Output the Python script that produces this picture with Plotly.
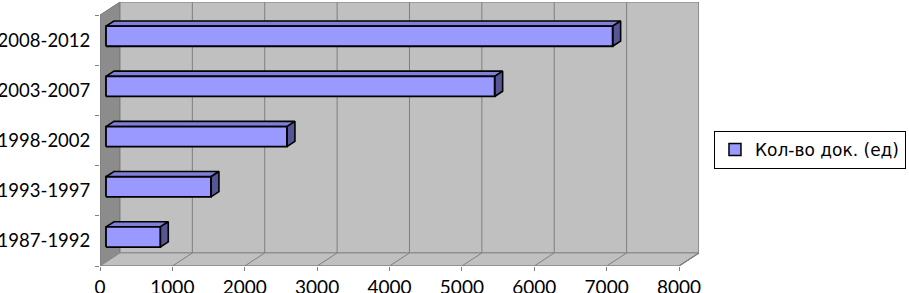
import plotly.graph_objects as go

# ---- data ----
categories = ["1987-1992", "1993-1997", "1998-2002", "2003-2007", "2008-2012"]
values = [750, 1450, 2500, 5370, 7000]
series_name = "Кол-во док. (ед)"
x_ticks = [0, 1000, 2000, 3000, 4000, 5000, 6000, 7000, 8000]

# ---- 3D projection parameters (depth offset in axis units) ----
XMAX = 8000
D = 276          # depth shift along x (value units)
DY = 0.26        # depth shift along y (category units)
F0, F1 = 0.3, 0.7  # bar depth span (fraction of wall depth)
HH = 0.2         # half height of bar front face

FONT = "Lato, 'Open Sans', sans-serif"
LFONT = "'DejaVu Sans', Verdana, sans-serif"
n = len(categories)

fig = go.Figure()

def poly(pts_list, fill, line_color, lw):
    xs, ys = [], []
    for pts in pts_list:
        for (a, b) in pts:
            xs.append(a); ys.append(b)
        xs.append(pts[0][0]); ys.append(pts[0][1])
        xs.append(None); ys.append(None)
    fig.add_trace(go.Scatter(x=xs, y=ys, mode="lines", fill="toself",
                             fillcolor=fill, line=dict(color=line_color, width=lw),
                             hoverinfo="skip", showlegend=False))

def lines(segs, color, lw):
    xs, ys = [], []
    for (a, b), (c, d) in segs:
        xs += [a, c, None]; ys += [b, d, None]
    fig.add_trace(go.Scatter(x=xs, y=ys, mode="lines", line=dict(color=color, width=lw),
                             hoverinfo="skip", showlegend=False))

# walls
poly([[(0, 0), (D, DY), (D, n + DY), (0, n)]], "#8C8C8C", "#7A7A7A", 1)          # side wall
poly([[(D, DY), (XMAX + D, DY), (XMAX + D, n + DY), (D, n + DY)]], "#C0C0C0", "#7A7A7A", 1)  # back wall
poly([[(0, 0), (XMAX, 0), (XMAX + D, DY), (D, DY)]], "#C0C0C0", "#8A8A8A", 1)   # floor

# gridlines on back wall and floor
grid = []
for t in x_ticks[1:]:
    grid.append(((t + D, DY), (t + D, n + DY)))
    grid.append(((t, 0), (t + D, DY)))
lines(grid, "#7F7F7F", 1)

# axis lines
lines([((0, 0), (XMAX, 0)), ((XMAX, 0), (XMAX + D, DY)), ((0, 0), (0, n))], "#808080", 1.2)

# bars
tops, rights, fronts = [], [], []
for i, v in enumerate(values):
    x0 = F0 * D
    yb = i + 0.5 - HH + F0 * DY
    yt = i + 0.5 + HH + F0 * DY
    ddx = (F1 - F0) * D
    ddy = (F1 - F0) * DY
    fronts.append([(x0, yb), (x0 + v, yb), (x0 + v, yt), (x0, yt)])
    tops.append([(x0, yt), (x0 + v, yt), (x0 + v + ddx, yt + ddy), (x0 + ddx, yt + ddy)])
    rights.append([(x0 + v, yb), (x0 + v + ddx, yb + ddy), (x0 + v + ddx, yt + ddy), (x0 + v, yt)])
poly(tops, "#8080D8", "#000000", 1.6)
poly(rights, "#565696", "#000000", 1.6)
poly(fronts, "#9999FF", "#000000", 1.8)

# legend entry
fig.add_trace(go.Scatter(x=[None], y=[None], mode="markers", name=series_name,
                         marker=dict(symbol="square", size=12, color="#9999FF",
                                     line=dict(color="#000000", width=1.5)),
                         showlegend=True))

fig.update_layout(
    width=909, height=293,
    margin=dict(l=100, r=210, t=2, b=27),
    paper_bgcolor="white", plot_bgcolor="white",
    font=dict(family=FONT, size=18, color="black"),
    showlegend=True,
    legend=dict(x=1.025, xanchor="left", y=0.44, yanchor="middle",
                bgcolor="white", bordercolor="#000000", borderwidth=1,
                font=dict(family=LFONT, size=17, color="black")),
    xaxis=dict(range=[0, XMAX + D], tickvals=x_ticks, ticks="outside", ticklen=4,
               tickcolor="#808080", showgrid=False, zeroline=False, showline=False,
               tickfont=dict(size=19), fixedrange=True, automargin=False),
    yaxis=dict(range=[0, n + DY], tickvals=[i + 0.5 for i in range(n)], ticktext=categories,
               ticks="outside", ticklen=5, tickcolor="rgba(0,0,0,0)",
               minor=dict(tickvals=list(range(n + 1)), ticks="outside", ticklen=4,
                          tickcolor="#808080"),
               showgrid=False, zeroline=False, showline=False,
               tickfont=dict(size=18.5), fixedrange=True, automargin=False),
)

fig.write_html("out.html", config={"displayModeBar": False},
               post_script="document.body.style.margin='0';document.body.style.overflow='hidden';")
